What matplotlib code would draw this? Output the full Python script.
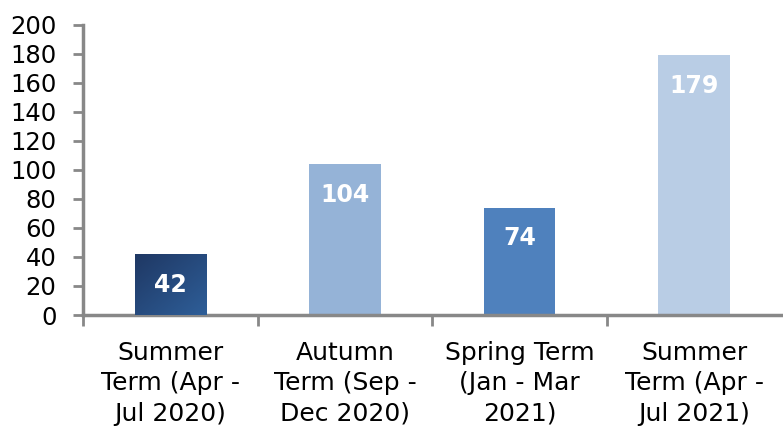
import numpy as np
import matplotlib.pyplot as plt
from matplotlib.colors import LinearSegmentedColormap

categories = ["Summer\nTerm (Apr -\nJul 2020)", "Autumn\nTerm (Sep -\nDec 2020)",
              "Spring Term\n(Jan - Mar\n2021)", "Summer\nTerm (Apr -\nJul 2021)"]
values = [42, 104, 74, 179]
colors = ["#2A5289", "#95B3D7", "#4F81BD", "#B9CDE5"]
yticks = list(range(0, 201, 20))

plt.rcParams['font.family'] = ['DejaVu Sans']

fig = plt.figure(figsize=(7.83, 4.33), dpi=100)
ax = fig.add_axes([0.106, 0.2725, 0.892, 0.67])

x = np.arange(len(values))
bars = ax.bar(x, values, width=0.41, color=colors, zorder=2)

# gradient on the first bar
b = bars[0]
cmap = LinearSegmentedColormap.from_list("g", ["#1F3864", "#2E5E98"])
grad = np.add.outer(np.linspace(0, 1, 50), np.linspace(0, 1, 50)) / 2
bx, by = b.get_x(), b.get_y()
im = ax.imshow(grad, cmap=cmap, extent=[bx, bx + b.get_width(), by, by + b.get_height()],
               aspect='auto', zorder=3, origin='upper')
im.set_clip_path(b)

for xi, v in zip(x, values):
    ax.annotate(str(v), (xi, v), xytext=(0, -22), textcoords='offset points',
                ha='center', va='center', color='white', fontsize=17,
                fontweight='bold', zorder=4)

ax.set_xlim(-0.5, len(values) - 0.5)
ax.set_ylim(0, 200)
ax.set_yticks(yticks)
ax.tick_params(axis='y', labelsize=17.5, length=7, width=2, color='#888888', pad=12)

ax.set_xticks(x)
ax.set_xticklabels(categories, fontsize=18, linespacing=1.32)
ax.tick_params(axis='x', which='major', length=0, pad=19)
ax.set_xticks(np.arange(len(values)) - 0.5, minor=True)
ax.tick_params(axis='x', which='minor', length=8, width=2, color='#888888')

for s in ['top', 'right']:
    ax.spines[s].set_visible(False)
for s in ['left', 'bottom']:
    ax.spines[s].set_color('#888888')
    ax.spines[s].set_linewidth(2.5)

fig.savefig("out.png", dpi=100)
